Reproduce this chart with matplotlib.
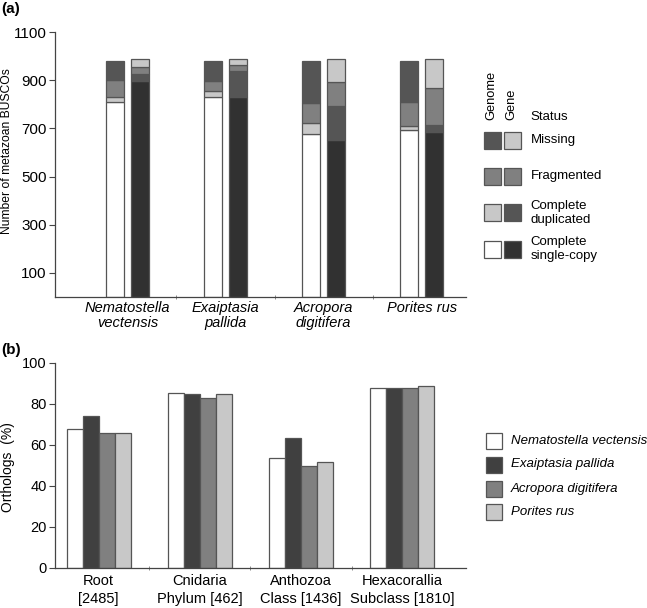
import matplotlib
matplotlib.use("Agg")
import matplotlib.pyplot as plt
from matplotlib.patches import Rectangle
import numpy as np

plt.rcParams['font.family'] = ['Liberation Sans', 'DejaVu Sans']

# ---------------- data: panel (a) ----------------
species = ["Nematostella\nvectensis", "Exaiptasia\npallida", "Acropora\ndigitifera", "Porites rus"]
statuses = ["Complete single-copy", "Complete duplicated", "Fragmented", "Missing"]
genome_single = [810, 829, 675, 692]
genome_dup = [21, 27, 46, 18]
genome_frag = [69, 40, 83, 98]
genome_missing = [78, 82, 174, 170]
gene_single = [898, 831, 651, 683]
gene_dup = [27, 107, 142, 29]
gene_frag = [29, 26, 99, 156]
gene_missing = [34, 25, 96, 120]
yticks_a = [100, 300, 500, 700, 900, 1100]

# ---------------- data: panel (b) ----------------
levels = ["Root\n[2485]", "Cnidaria\nPhylum [462]", "Anthozoa\nClass [1436]", "Hexacorallia\nSubclass [1810]"]
names_b = ["Nematostella vectensis", "Exaiptasia pallida", "Acropora digitifera", "Porites rus"]
nematostella_b = [67.6, 85.3, 53.7, 88.0]
exaiptasia_b = [74.0, 84.7, 63.2, 88.0]
acropora_b = [66.0, 82.7, 49.7, 87.7]
porites_b = [65.8, 84.7, 51.6, 88.6]
yticks_b = [0, 20, 40, 60, 80, 100]

W, H = 647, 608
fig = plt.figure(figsize=(W / 100, H / 100), dpi=100)

def fx(x):
    return x / W

def fy(y):
    return 1 - y / H

EDGE = '#555555'
c_white = '#ffffff'
c_light = '#c8c8c8'
c_mid = '#808080'
c_dark = '#555555'
c_black = '#313131'

# ---------------- panel (a) ----------------
ax1 = fig.add_axes([fx(55), fy(297), fx(466) - fx(55), fy(32) - fy(297)])
x = np.arange(len(species))
bw = 0.187
off = 0.127

genome_segments = [genome_single, genome_dup, genome_frag, genome_missing]
genome_colors = [c_white, c_light, c_mid, c_dark]
gene_segments = [gene_single, gene_dup, gene_frag, gene_missing]
gene_colors = [c_black, c_dark, c_mid, c_light]

bottom = np.zeros(len(species))
for vals, col in zip(genome_segments, genome_colors):
    ax1.bar(x - off, vals, bw, bottom=bottom, color=col, edgecolor=EDGE, linewidth=0.9)
    bottom += np.array(vals)
bottom = np.zeros(len(species))
for vals, col in zip(gene_segments, gene_colors):
    ax1.bar(x + off, vals, bw, bottom=bottom, color=col, edgecolor=EDGE, linewidth=0.9)
    bottom += np.array(vals)

ax1.set_xlim(-0.7375, 3.452)
ax1.set_ylim(0, 1100)
ax1.set_yticks(yticks_a)
ax1.set_xticks(x)
ax1.set_xticklabels(species, fontstyle='italic', fontsize=10.5, linespacing=1.05)
ax1.tick_params(axis='x', length=0, pad=3)
ax1.set_xticks(x[:-1] + 0.5, minor=True)
ax1.tick_params(axis='x', which='minor', length=3, direction='inout', color='#777777')
ax1.tick_params(axis='y', labelsize=11, length=4, color='#444444', pad=2)
for s in ['top', 'right']:
    ax1.spines[s].set_visible(False)
for s in ['left', 'bottom']:
    ax1.spines[s].set_color('#444444')
    ax1.spines[s].set_linewidth(0.9)

fig.text(fx(7), fy(151), "Number of metazoan BUSCOs", rotation=90, ha='center', va='center', fontsize=8.7)
fig.text(fx(1), fy(9), "(a)", fontweight='bold', fontsize=11, ha='left', va='center')

# legend (a)
fig.text(fx(491.7), fy(120), "Genome", rotation=90, ha='center', va='bottom', fontsize=9.3)
fig.text(fx(511.5), fy(120), "Gene", rotation=90, ha='center', va='bottom', fontsize=9.3)
fig.text(fx(530.7), fy(117), "Status", ha='left', va='center', fontsize=9.5)
leg_rows = [("Missing", 140, c_dark, c_light),
            ("Fragmented", 176, c_mid, c_mid),
            ("Complete\nduplicated", 213, c_light, c_dark),
            ("Complete\nsingle-copy", 249, c_white, c_black)]
sq = 17
for label, yc, cg, cn in leg_rows:
    fig.patches.append(Rectangle((fx(484), fy(yc + sq / 2)), fx(sq), fy(0) - fy(sq),
                                 transform=fig.transFigure, facecolor=cg, edgecolor=EDGE, linewidth=0.9))
    fig.patches.append(Rectangle((fx(504), fy(yc + sq / 2)), fx(sq), fy(0) - fy(sq),
                                 transform=fig.transFigure, facecolor=cn, edgecolor=EDGE, linewidth=0.9))
    fig.text(fx(530.7), fy(yc), label, ha='left', va='center', fontsize=9.5, linespacing=1.15)

# ---------------- panel (b) ----------------
ax2 = fig.add_axes([fx(55), fy(567.5), fx(466) - fx(55), fy(363) - fy(567.5)])
xb = np.arange(len(levels))
bwb = 0.158
series_b = [nematostella_b, exaiptasia_b, acropora_b, porites_b]
colors_b = [c_white, '#404040', c_mid, c_light]
for i, (vals, col) in enumerate(zip(series_b, colors_b)):
    ax2.bar(xb + (i - 1.5) * bwb, vals, bwb, color=col, edgecolor=EDGE, linewidth=0.9)

ax2.set_xlim(-0.432, 3.63)
ax2.set_ylim(0, 100)
ax2.set_yticks(yticks_b)
ax2.set_xticks(xb)
ax2.set_xticklabels(levels, fontsize=10.5, linespacing=1.3)
ax2.tick_params(axis='x', length=0, pad=5)
ax2.set_xticks(xb[:-1] + 0.5, minor=True)
ax2.tick_params(axis='x', which='minor', length=3, direction='inout', color='#777777')
ax2.tick_params(axis='y', labelsize=10.5, length=4, color='#444444', pad=2)
for s in ['top', 'right']:
    ax2.spines[s].set_visible(False)
for s in ['left', 'bottom']:
    ax2.spines[s].set_color('#444444')
    ax2.spines[s].set_linewidth(0.9)

fig.text(fx(8), fy(466.7), "Orthologs  (%)", rotation=90, ha='center', va='center', fontsize=10)
fig.text(fx(1), fy(350), "(b)", fontweight='bold', fontsize=11, ha='left', va='center')

# legend (b)
for i, (name, col) in enumerate(zip(names_b, colors_b)):
    yc = [441, 464.5, 488.7, 512][i]
    fig.patches.append(Rectangle((fx(486), fy(yc + 8)), fx(16), fy(0) - fy(16),
                                 transform=fig.transFigure, facecolor=col, edgecolor=EDGE, linewidth=0.9))
    fig.text(fx(510.7), fy(yc), name, ha='left', va='center', fontsize=9.5, fontstyle='italic')

fig.savefig("out.png", dpi=100)
